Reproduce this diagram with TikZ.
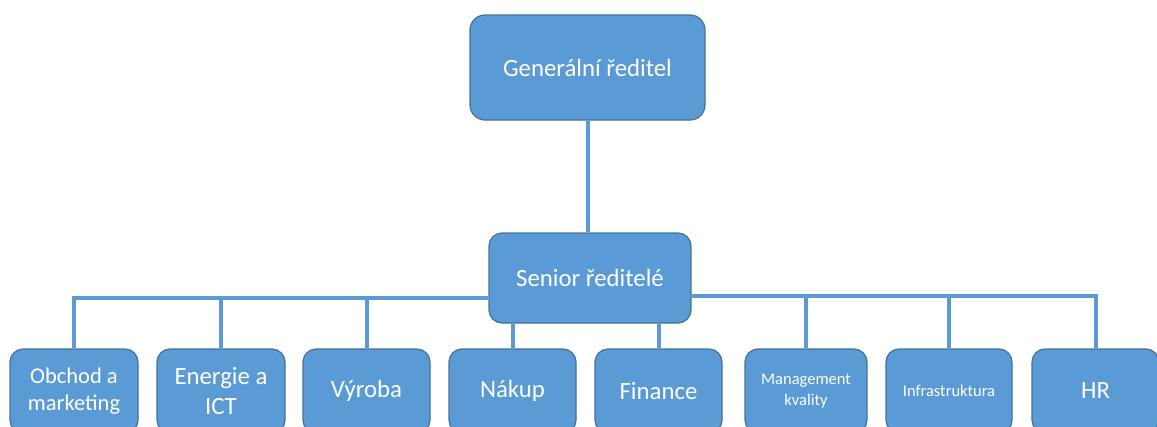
\documentclass[tikz,border=0pt]{standalone}
\usepackage{fontspec}
\setmainfont{Carlito}
\usepackage{tikz}
\usetikzlibrary{positioning}
\usetikzlibrary{calc}
\definecolor{boxblue}{HTML}{5B9BD5}
\definecolor{boxedge}{HTML}{41719C}
\tikzset{
	orgbox/.style={draw=boxedge, line width=1.2pt, fill=boxblue, rounded corners=13pt, text=white, align=center, inner sep=0pt},
	conn/.style={draw=boxblue, line width=4pt},
	big/.style={font=\fontsize{24.8}{30}\selectfont},
	small/.style={font=\fontsize{16.5}{21}\selectfont}
}

\begin{document}
\begin{tikzpicture}[x=1pt, y=-1pt]
	\useasboundingbox (0,0) rectangle (1157,426);
	\clip (0,0) rectangle (1157,426);
	%
	\node[orgbox, big, rounded corners=15pt, minimum width=235pt, minimum height=105pt] (gen) at (587.5,67.5) {Generální ředitel};
	\node[orgbox, big, minimum width=202pt, minimum height=90pt] (sen) at (590,278) {Senior ředitelé};
	%
	\node[orgbox, font=\fontsize{22.5}{27}\selectfont, minimum width=128pt, minimum height=84pt] (obchod) at (74,391) {Obchod a\\marketing};
	\node[orgbox, big, minimum width=128pt, minimum height=84pt] (energie) at (221,391) {Energie a\\ICT};
	\node[orgbox, big, minimum width=127pt, minimum height=84pt] (vyroba) at (366.5,391) {Výroba};
	\node[orgbox, big, minimum width=127pt, minimum height=84pt] (nakup) at (512.5,391) {Nákup};
	\node[orgbox, big, minimum width=127pt, minimum height=84pt] (finance) at (658.5,391) {Finance};
	\node[orgbox, small, minimum width=122pt, minimum height=84pt] (mgmt) at (806,391) {Management\\kvality};
	\node[orgbox, small, minimum width=126pt, minimum height=84pt] (infra) at (949,391) {Infrastruktura};
	\node[orgbox, big, minimum width=127pt, minimum height=84pt] (hr) at (1095.5,391) {HR};
	%
	\coordinate (busl) at ([yshift=-20pt]sen.west);
	\coordinate (busr) at ([yshift=-18pt]sen.east);
	%
	\draw[conn] (gen.south) -- (gen.south |- sen.north);
	\draw[conn] (obchod.north) |- (busl);
	\draw[conn] (energie.north) -- (energie.north |- busl);
	\draw[conn] (vyroba.north) -- (vyroba.north |- busl);
	\draw[conn] (nakup.north) -- (nakup.north |- sen.south);
	\draw[conn] (finance.north) -- (finance.north |- sen.south);
	\draw[conn] (mgmt.north) -- (mgmt.north |- busr);
	\draw[conn] (infra.north) -- (infra.north |- busr);
	\draw[conn] (hr.north) |- (busr);
\end{tikzpicture}
\end{document}
